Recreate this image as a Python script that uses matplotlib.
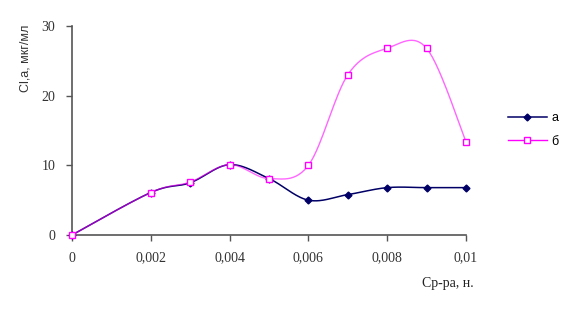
import numpy as np
import matplotlib
matplotlib.use("Agg")
import matplotlib.pyplot as plt
from matplotlib.lines import Line2D

conc = [0, 0.002, 0.003, 0.004, 0.005, 0.006, 0.007, 0.008, 0.009, 0.01]
series_a = [0, 6.1, 7.5, 10.1, 8.1, 5.0, 5.8, 6.8, 6.8, 6.8]
series_b = [0, 6.1, 7.6, 10.1, 8.1, 10.0, 23.0, 26.8, 26.8, 13.4]
xticks = [0, 0.002, 0.004, 0.006, 0.008, 0.01]
xtick_labels = ["0", "0,002", "0,004", "0,006", "0,008", "0,01"]
yticks = [0, 10, 20, 30]


def smooth(x, y, n=30):
    # Excel-like smoothed line: cubic bezier with catmull-rom control points
    x = np.asarray(x, float)
    y = np.asarray(y, float)
    pts = np.column_stack([x, y])
    out = []
    for i in range(len(pts) - 1):
        p0 = pts[i - 1] if i > 0 else pts[i]
        p1 = pts[i]
        p2 = pts[i + 1]
        p3 = pts[i + 2] if i + 2 < len(pts) else pts[i + 1]
        c1 = p1 + (p2 - p0) / 6.0
        c2 = p2 - (p3 - p1) / 6.0
        t = np.linspace(0, 1, n)[:, None]
        seg = ((1 - t) ** 3) * p1 + 3 * ((1 - t) ** 2) * t * c1 + 3 * (1 - t) * t ** 2 * c2 + t ** 3 * p2
        out.append(seg if i == 0 else seg[1:])
    out = np.vstack(out)
    return out[:, 0], out[:, 1]


fig = plt.figure(figsize=(5.61, 3.13), dpi=100)
ax = fig.add_axes([72 / 561, 78 / 313, 394 / 561, 209 / 313])

navy = "#000066"
pink = "#ff00ff"

sx, sy = smooth(conc, series_a)
ax.plot(sx, sy, color=navy, lw=1.1, zorder=2)
ax.plot(conc, series_a, ls="none", marker="D", ms=3.5, color=navy, zorder=3)

sx, sy = smooth(conc, series_b)
ax.plot(sx, sy, color=pink, lw=1.0, alpha=0.6, zorder=4)
ax.plot(conc, series_b, ls="none", marker="s", ms=4.5, mfc="white", mec=pink, mew=1.0, zorder=5)

ax.set_xlim(0, 0.01)
ax.set_ylim(0, 30)
ax.set_xticks(xticks)
ax.set_xticklabels(xtick_labels)
ax.set_yticks(yticks)
for s in ["top", "right"]:
    ax.spines[s].set_visible(False)
for s in ["left", "bottom"]:
    ax.spines[s].set_color("#555555")
    ax.spines[s].set_linewidth(1.2)
ax.spines["left"].set_zorder(1)
ax.tick_params(axis="both", colors="#555555", length=4, width=1.0, labelcolor="#333333")
ax.tick_params(axis="x", pad=8)
ax.tick_params(axis="y", pad=8)
ax.margins(0)
for lbl in ax.get_xticklabels() + ax.get_yticklabels():
    lbl.set_fontfamily("Liberation Serif")
    lbl.set_fontsize(10)
for art in ax.lines:
    art.set_clip_on(False)

fig.text(25 / 561, 1 - 58 / 313, "Cl,a, мкг/мл", rotation=90, ha="center", va="center",
         fontsize=9, family="Liberation Sans", color="#333333")
fig.text(448 / 561, 1 - 283 / 313, "Ср-ра, н.", ha="center", va="center",
         fontsize=10, family="Liberation Serif", color="#222222")

handles = [Line2D([], [], color=navy, lw=1.1, marker="D", ms=3.5),
           Line2D([], [], color=pink, lw=1.0, marker="s", ms=4.5, mfc="white", mec=pink)]
fig.legend(handles, ["а", "б"], loc="center left", bbox_to_anchor=(504 / 561, 1 - 130 / 313),
           frameon=False, handlelength=3.1, handletextpad=0.4, labelspacing=0.9,
           borderaxespad=0, borderpad=0.3,
           prop={"family": "Liberation Sans", "size": 9})

fig.savefig("out.png", dpi=100)
